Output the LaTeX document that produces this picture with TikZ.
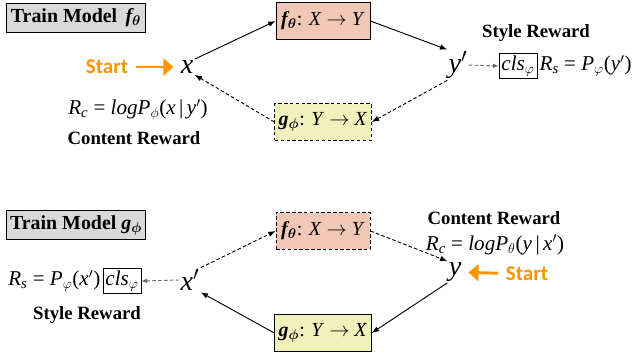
\documentclass[tikz,border=0pt]{standalone}
\usepackage{amsmath}
\usepackage{bm}
\usepackage[no-math]{fontspec}
\setmainfont{Liberation Serif}
\newfontfamily\startfont{Carlito}
\usetikzlibrary{positioning,calc,arrows.meta}

\definecolor{titlegray}{RGB}{217,217,217}
\definecolor{fcol}{RGB}{241,200,182}
\definecolor{gcol}{RGB}{241,241,188}
\definecolor{startorange}{RGB}{255,147,0}

% italic letters in the text font, Greek from math
\newcommand{\iv}[1]{\textit{#1}}
\newcommand{\sub}[1]{\textsubscript{#1}}

\tikzset{
    every node/.style={font=\fontsize{16}{19}\selectfont},
    titlebox/.style={draw, thick, fill=titlegray, minimum width=4cm, minimum height=0.87cm, font=\fontsize{17}{19}\selectfont\bfseries},
    fnet/.style={draw, thick, fill=fcol, minimum width=2.82cm, minimum height=1.1cm, font=\fontsize{17}{19}\selectfont},
    gnet/.style={draw, thick, fill=gcol, minimum width=2.82cm, minimum height=1.1cm, font=\fontsize{17}{19}\selectfont},
    var/.style={font=\fontsize{24}{26}\selectfont, inner sep=1pt},
    formula/.style={font=\fontsize{18}{20}\selectfont, inner sep=2pt},
    clsbox/.style={draw, inner sep=2pt, font=\fontsize{18}{20}\selectfont},
    rewardtext/.style={font=\fontsize{16}{19}\selectfont\bfseries},
    starttext/.style={text=startorange, font=\fontsize{18}{20}\selectfont\startfont\bfseries},
    flow/.style={-{Latex[length=2.2mm]}, thick},
    flowd/.style={flow, densely dashed},
    styleflow/.style={-{Latex[length=1.8mm]}, densely dashed, draw=gray!80!black, thick},
    startarrow/.style={-{Triangle[length=3mm,width=5mm]}, line width=2.5pt, draw=startorange}
}

\begin{document}
\begin{tikzpicture}[x=0.03cm, y=-0.03cm]
    \useasboundingbox (0,0) rectangle (639,353);

    % Train model f
    \node[titlebox] (tf) at (76,18) {Train Model \,{\itshape f}\sub{$\bm\theta$}};
    \node[fnet] (f1) at (323,21) {{\bfseries\itshape f}\sub{$\bm\theta$}: \iv{X} $\rightarrow$ \iv{Y}};
    \node[gnet, densely dashed] (g1) at (323,122) {{\bfseries\itshape g}\sub{$\bm\phi$}: \iv{Y} $\rightarrow$ \iv{X}};
    \node[var] (x1) at (187,67) {\iv{x}};
    \node[var] (y1) at (458,65) {\iv{y}$'$};
    \node[clsbox] (c1) at (518,66) {\iv{cls}\sub{$\varphi$}};
    \node[formula, anchor=west] (rs1) at (c1.east) {\iv{R}\sub{\iv{s}} = \iv{P}\sub{$\varphi$}(\iv{y}$'$)};
    \node[rewardtext] (sr1) at (536,33) {Style Reward};
    \node[formula] (rc1) at (138,110) {\iv{R}\sub{\iv{c}} = \iv{logP}\sub{$\phi$}(\iv{x}\,|\,\iv{y}$'$)};
    \node[rewardtext] (cr1) at (134,138) {Content Reward};
    \node[starttext] (s1) at (107,67) {Start};

    \draw[startarrow, shorten <=3pt, shorten >=5pt] (s1) -- (x1);
    \draw[flow] (x1.north east) -- (f1.west);
    \draw[flow] (f1.east) -- (y1.north west);
    \draw[flowd] (y1.south west) -- (g1.east);
    \draw[flowd] (g1.west) -- (x1.south east);
    \draw[styleflow] (y1.east) -- (c1.west);

    % Train model g
    \node[titlebox] (tg) at (76,225) {Train Model \iv{\bfseries g}\sub{$\bm\phi$}};
    \node[fnet, densely dashed] (f2) at (323,231) {{\bfseries\itshape f}\sub{$\bm\theta$}: \iv{X} $\rightarrow$ \iv{Y}};
    \node[gnet] (g2) at (323,333) {{\bfseries\itshape g}\sub{$\bm\phi$}: \iv{Y} $\rightarrow$ \iv{X}};
    \node[var] (x2) at (190,280) {\iv{x}$'$};
    \node[var] (y2) at (455,272) {\iv{y}};
    \node[clsbox] (c2) at (122,281) {\iv{cls}\sub{$\varphi$}};
    \node[formula, anchor=east] (rs2) at (c2.west) {\iv{R}\sub{\iv{s}} = \iv{P}\sub{$\varphi$}(\iv{x}$'$)};
    \node[rewardtext] (sr2) at (87,315) {Style Reward};
    \node[rewardtext] (cr2) at (494,218) {Content Reward};
    \node[formula] (rc2) at (495,245) {\iv{R}\sub{\iv{c}} = \iv{logP}\sub{$\theta$}(\iv{y}\,|\,\iv{x}$'$)};
    \node[starttext] (s2) at (527,274) {Start};

    \draw[startarrow, shorten <=3pt, shorten >=5pt] (s2) -- (y2);
    \draw[flowd] (x2.north east) -- (f2.west);
    \draw[flowd] (f2.east) -- (y2.north west);
    \draw[flow] (y2.south west) -- (g2.east);
    \draw[flow] (g2.west) -- (x2.south east);
    \draw[styleflow] (x2.west) -- (c2.east);
\end{tikzpicture}
\end{document}
